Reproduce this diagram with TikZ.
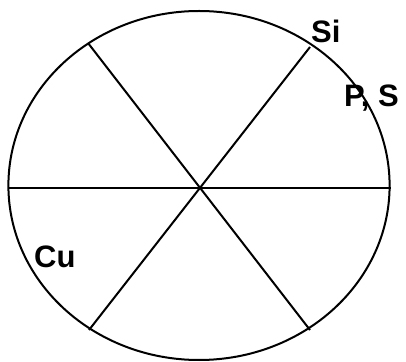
\documentclass[tikz,border=0pt]{standalone}
\usepackage{fontspec}
\setmainfont{Liberation Sans}
\usetikzlibrary{positioning}

\begin{document}
\begin{tikzpicture}[x=1pt,y=1pt,
  rim/.style={line width=2pt},
  spoke/.style={line width=2pt},
  lbl/.style={font=\fontsize{31}{33}\selectfont\bfseries,inner sep=0pt,anchor=base west}]
\useasboundingbox (0,0) rectangle (406,361);
\coordinate (o) at (200,173);
\coordinate (w) at (8,173);
\coordinate (e) at (391,173);
\coordinate (nw) at (88,318);
\coordinate (ne) at (310,314);
\coordinate (sw) at (89,31);
\coordinate (se) at (310,31);
\draw[rim] (199,175.5) ellipse[x radius=190.6,y radius=174.5];
\draw[spoke] (w)--(e);
\draw[spoke] (nw)--(se);
\draw[spoke] (ne)--(sw);
\node[lbl](si) at (311,318){Si};
\node[lbl](ps) at (344,254){P, S};
\node[lbl](cu) at (34,93){Cu};
\end{tikzpicture}
\end{document}
